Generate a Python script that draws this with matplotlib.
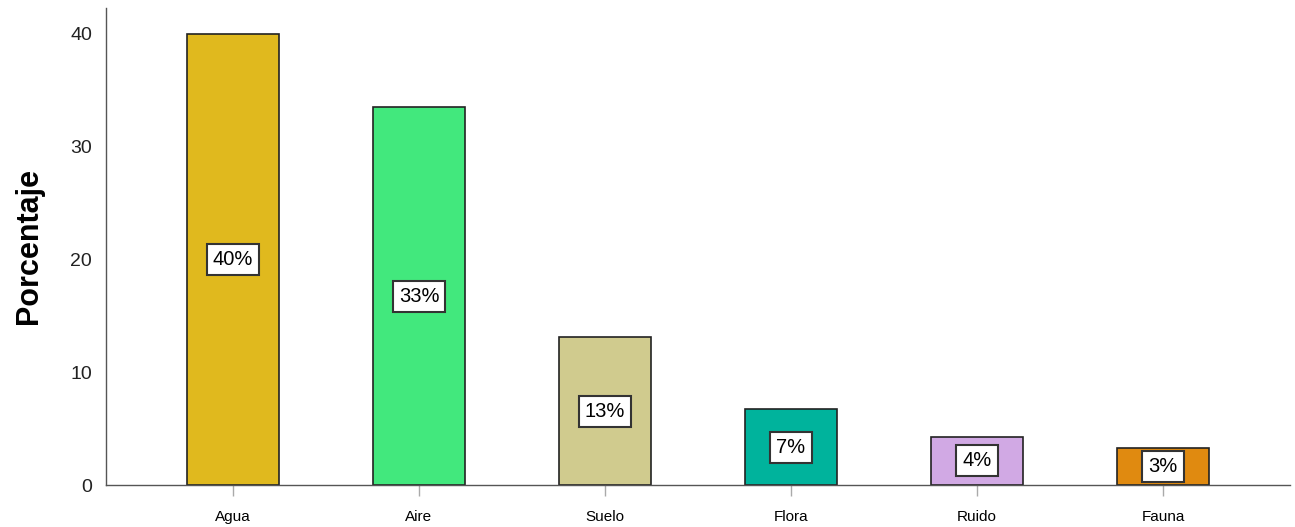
import matplotlib.pyplot as plt
import numpy as np

plt.rcParams['font.family'] = ['Liberation Sans', 'DejaVu Sans']

categorias = ['Agua', 'Aire', 'Suelo', 'Flora', 'Ruido', 'Fauna']
porcentaje = [40.0, 33.5, 13.1, 6.7, 4.3, 3.3]
etiquetas = ['40%', '33%', '13%', '7%', '4%', '3%']
colores = ['#E0B91E', '#42E87D', '#D0CB8E', '#00B39C', '#D1A9E4', '#E08A10']

fig = plt.figure(figsize=(12.95, 5.27), dpi=100)
ax = fig.add_axes([106/1295, 1 - 485/527, (1290 - 106)/1295, (485 - 8)/527])

x = np.arange(len(categorias))
ax.bar(x, porcentaje, width=0.495, color=colores, edgecolor='#222222', linewidth=1.2, zorder=2)

for xi, v, lab in zip(x, porcentaje, etiquetas):
    ax.text(xi, v / 2, lab, ha='center', va='center', fontsize=14.5, zorder=3,
            bbox=dict(boxstyle='square,pad=0.3', facecolor='white', edgecolor='#333333', linewidth=1.5))

ax.set_xlim(-0.683, 5.683)
ax.set_ylim(0, 42.3)
ax.set_yticks(np.arange(0, 41, 10))
ax.set_xticks(x)
ax.set_xticklabels(categorias, fontsize=11)
ax.tick_params(axis='y', length=0, labelsize=14, pad=10, colors='#222222')
ax.tick_params(axis='x', length=8, width=1, color='#aaaaaa', pad=10)

for s in ['top', 'right']:
    ax.spines[s].set_visible(False)
for s in ['left', 'bottom']:
    ax.spines[s].set_color('#555555')
    ax.spines[s].set_linewidth(1)

ax.set_ylabel('Porcentaje', fontsize=22, fontweight='bold', labelpad=19)

fig.savefig('out.png', dpi=100)
